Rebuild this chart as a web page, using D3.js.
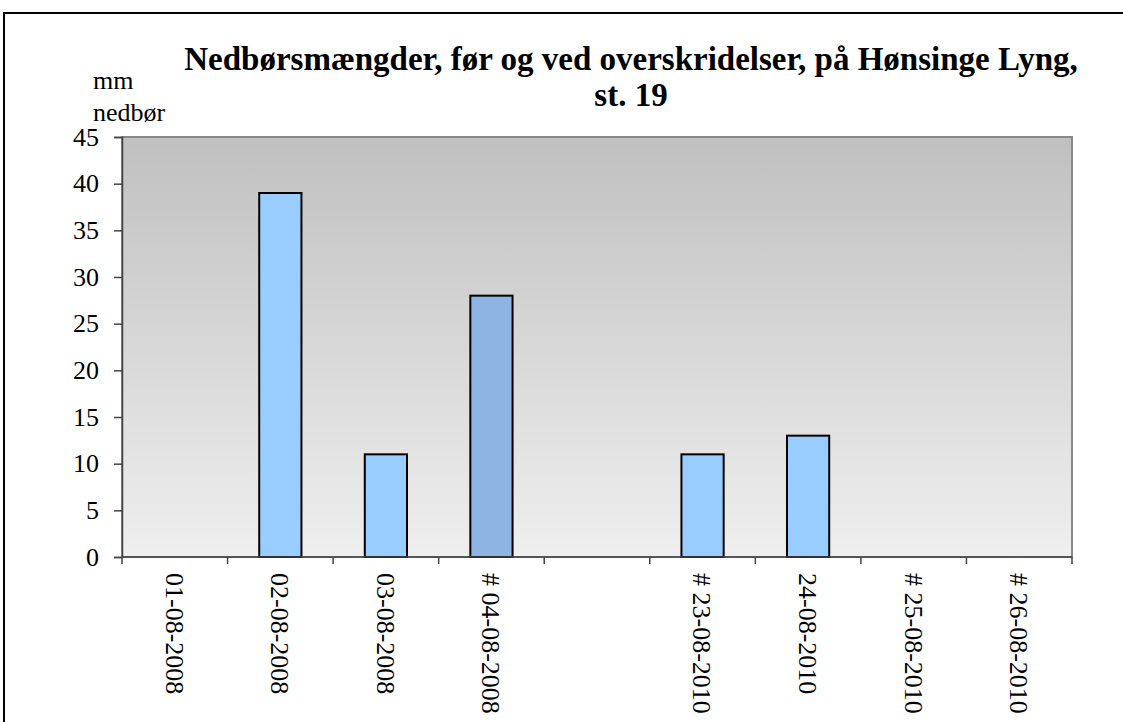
<!DOCTYPE html>
<html>
<head>
<meta charset="utf-8">
<script src="https://cdn.jsdelivr.net/npm/d3@7"></script>
<style>
  body { margin: 0; background: #fff; }
  svg text { font-family: 'Liberation Serif', 'Times New Roman', 'DejaVu Serif', serif !important; fill: #000; }
</style>
</head>
<body>
<svg id="chart" width="1123" height="722"></svg>
<script>
// chart data
const categories = ["01-08-2008", "02-08-2008", "03-08-2008", "# 04-08-2008", "", "# 23-08-2010", "24-08-2010", "# 25-08-2010", "# 26-08-2010"];
const values = [0, 39, 11, 28, 0, 11, 13, 0, 0];
const yTicks = [0, 5, 10, 15, 20, 25, 30, 35, 40, 45];
const highlight = ["# 04-08-2008"];

const svg = d3.select("#chart");
const margin = { left: 122, top: 137, right: 1072, bottom: 557 };

// outer frame
svg.append("rect")
  .attr("x", 4).attr("y", 13)
  .attr("width", 1130).attr("height", 720)
  .attr("fill", "none").attr("stroke", "#000").attr("stroke-width", 2);

// gradient for plot background
const defs = svg.append("defs");
const grad = defs.append("linearGradient")
  .attr("id", "bg").attr("x1", 0).attr("y1", 0).attr("x2", 0).attr("y2", 1);
grad.append("stop").attr("offset", "0%").attr("stop-color", "#c0c0c0");
grad.append("stop").attr("offset", "100%").attr("stop-color", "#efefef");

const x = d3.scaleBand()
  .domain(d3.range(categories.length))
  .range([margin.left, margin.right])
  .paddingInner(0.6).paddingOuter(0.3);

const y = d3.scaleLinear().domain([0, 45]).range([margin.bottom, margin.top]);

svg.append("rect")
  .attr("x", margin.left).attr("y", margin.top)
  .attr("width", margin.right - margin.left).attr("height", margin.bottom - margin.top)
  .attr("fill", "url(#bg)").attr("stroke", "#888").attr("stroke-width", 2);

// bars
svg.selectAll("rect.bar")
  .data(values)
  .enter()
  .append("rect")
  .attr("class", "bar")
  .attr("x", (d, i) => x(i))
  .attr("y", d => y(d))
  .attr("width", x.bandwidth())
  .attr("height", d => y(0) - y(d))
  .attr("fill", (d, i) => highlight.includes(categories[i]) ? "#8eb4e3" : "#99ccff")
  .attr("stroke", "#000")
  .attr("stroke-width", 2)
  .style("display", d => d > 0 ? null : "none");

// y axis
const yAxis = svg.append("g")
  .attr("transform", `translate(${margin.left},0)`)
  .call(d3.axisLeft(y).tickValues(yTicks).tickSize(8).tickPadding(15));
yAxis.select(".domain").attr("stroke", "#444").attr("stroke-width", 1.5);
yAxis.selectAll(".tick line").attr("stroke", "#444").attr("stroke-width", 1.5);
yAxis.selectAll(".tick text").style("font-size", "26px");

// x axis: ticks at slot boundaries
const step = (margin.right - margin.left) / categories.length;
const xAxis = svg.append("g").attr("transform", `translate(0,${margin.bottom})`);
xAxis.append("line")
  .attr("x1", margin.left).attr("x2", margin.right)
  .attr("stroke", "#444").attr("stroke-width", 1.5);
xAxis.selectAll("line.tk")
  .data(d3.range(categories.length + 1))
  .enter()
  .append("line")
  .attr("class", "tk")
  .attr("x1", i => margin.left + i * step).attr("x2", i => margin.left + i * step)
  .attr("y1", 0).attr("y2", 7)
  .attr("stroke", "#444").attr("stroke-width", 1.5);
xAxis.selectAll("text")
  .data(categories)
  .enter()
  .append("text")
  .attr("transform", (d, i) => `translate(${x(i) + x.bandwidth() / 2},16) rotate(90)`)
  .attr("dy", "0.35em")
  .style("font-size", "26px")
  .text(d => d);

// title
const title = svg.append("text")
  .attr("text-anchor", "middle")
  .style("font-size", "33px").style("font-weight", "bold");
title.append("tspan").attr("x", 631).attr("y", 70).text("Nedbørsmængder, før og ved overskridelser, på Hønsinge Lyng,");
title.append("tspan").attr("x", 631).attr("y", 106).text("st. 19");

// y unit label
svg.append("text").attr("x", 93).attr("y", 89).style("font-size", "26px").text("mm");
svg.append("text").attr("x", 93).attr("y", 121).style("font-size", "26px").text("nedbør");
</script>
</body>
</html>
